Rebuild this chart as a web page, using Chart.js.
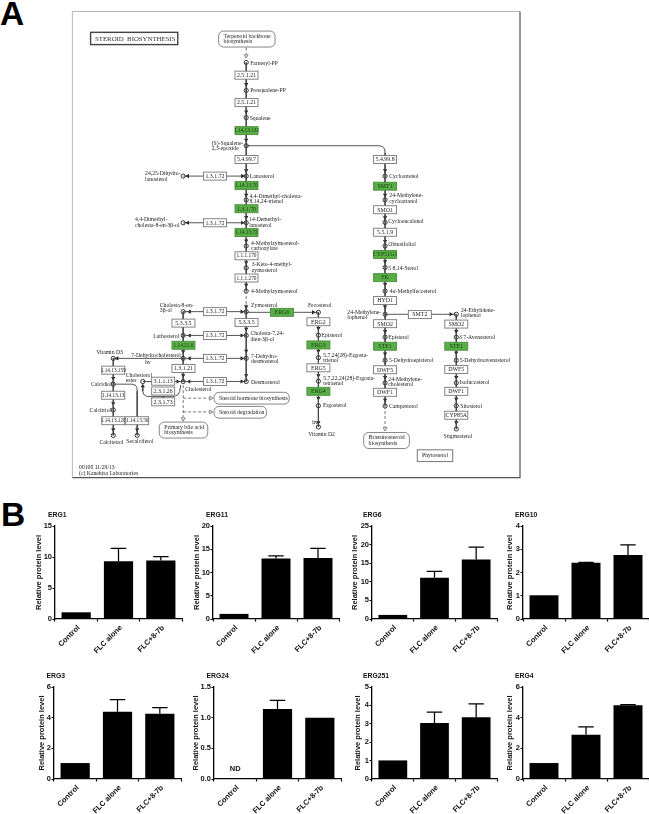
<!DOCTYPE html>
<html lang="en">
<head>
<meta charset="utf-8">
<title>Steroid biosynthesis</title>
<script src="https://cdn.jsdelivr.net/npm/chart.js@4/dist/chart.umd.min.js"></script>
<style>
html,body{margin:0;padding:0;background:#fff;width:649px;height:814px;overflow:hidden}
canvas{position:absolute;display:block}
.letter{position:absolute;font:bold 33.5px "Liberation Sans",Arial,sans-serif;line-height:34px;color:#000}
#pathway{filter:blur(.4px)}
.bars{filter:blur(.35px)}
</style>
</head>
<body>
<div class="letter" style="left:0;top:-3px">A</div>
<div class="letter" style="left:1px;top:498px">B</div>
<canvas id="pathway" width="649" height="490" style="left:0;top:0"></canvas>
<script>
/* ---------- Panel B data ---------- */
const categories = ['Control', 'FLC alone', 'FLC+8-7b'];
const erg1Values   = [1.08, 9.33, 9.44];   const erg1Upper   = [null, 11.4, 10.05];
const erg11Values  = [1.1, 13.0, 13.1];    const erg11Upper  = [null, 13.6, 15.2];
const erg6Values   = [1.1, 11.1, 16.0];    const erg6Upper   = [null, 12.8, 19.3];
const erg10Values  = [1.02, 2.42, 2.75];   const erg10Upper  = [null, 2.44, 3.19];
const erg3Values   = [1.04, 4.39, 4.26];   const erg3Upper   = [null, 5.17, 4.65];
const erg24Values  = [0, 1.14, 1.0];       const erg24Upper  = [null, 1.28, null];
const erg251Values = [1.01, 3.05, 3.36];   const erg251Upper = [null, 3.63, 4.08];
const erg4Values   = [1.04, 2.88, 4.81];   const erg4Upper   = [null, 3.4, 4.85];
const erg24Note = {text: 'ND', index: 0, value: 0.17};

/* ---------- Panel A diagram, in diagram units ---------- */
const compounds = [
 [245,58.7],[245,87.3],[245,115],[245,143.7],[245,174.7],[181,174.7],[245,199],[245,222.3],[181,222.3],[245,246],
 [245,268.3],[245,292],[245,313],[181,313],[245,337.3],[181,337.3],[245,360.7],[181,360.7],[110,360.7],[245,384.3],
 [181,384.3],[140,384.3],[110,387],[110,413.3],[110,439.3],[134.3,439.3],
 [318.3,313.7],[318.3,337],[318.3,360],[318.3,384],[318.3,409],[318.3,430.7],
 [386,174.7],[386,199],[386,222],[386,246],[386,268],[386,292],[386,315.7],[386,339],[386,362.7],[386,385.7],[386,409.3],
 [458.3,315.7],[458.3,339],[458.3,362.7],[458.3,385.7],[458.3,409],[458.3,432.7]
];
const downArrows = [
 [245,81],[245,109],[245,137.7],[245,169],[245,194],[245,216.7],[245,240.7],[245,262.7],[245,285.7],[245,308],[245,330.7],[245,353],[245,378],
 [181,353.5],[181,378],[110,381],[110,406.7],[110,433.3],[134.3,433.3],
 [318.3,330],[318.3,353],[318.3,378],[318.3,401.3],[318.3,426],
 [386,169],[386,194],[386,217],[386,241],[386,261.7],[386,285],[386,308],[386,333],[386,356],[386,380],[386,403],
 [458.3,333],[458.3,355],[458.3,380],[458.3,402],[458.3,426]
];
const rightArrows = [[241,174.7],[241,222.3],[240.5,313],[240.5,337.3],[240.5,360.7],[240.5,384.3],[313,313.7],[452.7,315.7],[175.5,384.3]];
const leftArrows  = [[185.7,174.7],[185.7,222.3],[187.5,313],[187.5,337.3],[187.5,360.7],[187,384.3],[114,360.7]];
const upArrows    = [[140,389]];
const openDown    = [[245,52],[181,422.5],[386,432.5]];
const openRight   = [[209,401.3],[209,415.3]];
const solidPaths = [
 [[245,58.7],[245,292]],[[245,306],[245,384.3]],
 [[181,174.7],[245,174.7]],[[181,222.3],[245,222.3]],[[181,313],[245,313]],[[181,337.3],[245,337.3]],
 [[181,360.7],[245,360.7]],[[181,384.3],[245,384.3]],[[245,313.7],[318.3,313.7]],
 [[245,143.7],[380,143.7],[383.5,144.5],[385.5,147],[386,151],[386,409]],
 [[181,313],[181,384.3]],[[110,360.7],[181,360.7]],[[110,360.7],[110,439.3]],
 [[110,387],[129,387],[132.5,388],[134,390.5],[134.3,394],[134.3,439.3]],
 [[140,384.3],[181,384.3]],
 [[140,388],[140,394],[141,397.5],[144,399.5],[172,399.5],[175.5,398],[177.5,394.5],[178.5,388]],
 [[160.7,399.5],[160.7,402]],
 [[318.3,313.7],[318.3,409]],[[318.3,409],[318.3,430.7]],
 [[386,315.7],[458.3,315.7]],[[458.3,315.7],[458.3,432.7]]
];
const dashedPaths = [
 [[245,43.5],[245,50]],[[245,292],[245,306]],[[181,388],[181,420.5]],
 [[181,401.3],[207,401.3]],[[181,415.3],[207,415.3]],[[386,409.3],[386,430.5]]
];
const whiteEnzymes = [
 ['2.5.1.21',245.3,71.7],['2.5.1.21',245.3,99.7],['5.4.99.7',245.3,157.7],['1.3.1.72',213.3,174.7],['1.3.1.72',213.3,222.3],
 ['1.1.1.170',245.3,256],['1.1.1.270',245.3,278.7],['1.3.1.72',213.3,313],['5.3.3.5',181.3,324.7],['5.3.3.5',245.3,324],
 ['1.3.1.72',213.3,337.3],['1.3.1.72',213.3,360.7],['1.3.1.21',181.3,371],['1.3.1.72',213.3,384.3],
 ['3.1.1.13',160.7,384],['2.3.1.26',160.7,394],['2.3.1.73',160.7,405],
 ['1.14.13.159',110,372.7],['1.14.13.13',110,398.3],['1.14.13.126',110,424.3],['1.14.13.56',134.3,424.3],
 ['ERG2',318.3,323.3],['ERG5',318.3,370.3],
 ['5.4.99.8',386,157.7],['SMO1',386,209],['5.5.1.9',386,232],['HYD1',386,301.7],['SMO2',386,325.3],['DWF5',386,372.3],['DWF1',386,395.3],
 ['SMT2',421.3,316],['SMO2',458.3,325.7],['DWF5',458.3,372],['DWF1',458.3,394.3],['CYP85A',458.3,418.7]
];
const greenEnzymes = [
 ['1.14.13.132',245.3,128.3],['1.14.13.70',245.3,184.3],['1.3.1.70',245.3,208],['1.14.13.72',245.3,232.3],['1.14.21.6',181.3,347.3],
 ['ERG6',281.3,313.7],['ERG3',318.3,347],['ERG4',318.3,394.3],
 ['SMT1',386,185],['CYP51G1',386,254.7],['FK',386,278.3],['STE1',386,348.3],['STE1',458.3,348.3]
];
const compoundLabels = [
 ['Farnesyl-PP',249,59.5],['Presqualene-PP',249,87.8],['Squalene',248.5,115.5],['(S)-Squalene-',210,141.3],['2,3-epoxide',210,147],
 ['Lanosterol',248.7,175],['24,25-Dihydro-',142.3,172.3],['lanosterol',142.3,178],['4,4-Dimethyl-cholesta-',248.3,195.3],['8,14,24-trienol',248.3,200.3],
 ['14-Demethyl-',248,219.3],['lanosterol',248,225],['4,4-Dimethyl-',132,219.3],['cholesta-8-en-3\u03b2-ol',132,225.3],
 ['4-Methylzymosterol-',250,243.3],['carboxylate',250,248.3],['3-Keto-4-methyl-',250.7,265],['zymosterol',250.7,270.7],['4-Methylzymosterol',250,292.5],
 ['Zymosterol',250,307],['Cholesta-8-en-',157.3,307],['3\u03b2-ol',157.3,312],['Cholesta-7,24-',249.3,335.7],['dien-3\u03b2-ol',249.3,341.3],
 ['Lathosterol',150.7,338],['7-Dehydrocholesterol',128.3,357.3],['hv',142.5,365],['Vitamin D3',92.7,354.7],['7-Dehydro-',250,358.3],['desmosterol',250,364],
 ['Desmosterol',250,385],['Cholesterol',122.7,378.3],['ester',122.7,383.3],['Cholesterol',183,392],['Calcidiol',87.3,387.5],['Calcitriol',86,414],
 ['Calcitetrol',96,446.3],['Secalciferol',123.3,446],
 ['Fecosterol',307.7,306.7],['Episterol',321.5,337.7],['5,7,24(28)-Ergosta-',323.3,357.3],['trienol',323.3,362.7],
 ['5,7,22,24(28)-Ergosta-',323.3,381],['tetraenol',323.3,386],['Ergosterol',323,409],['hv',312,426.5],['Vitamin D2',308,438],
 ['Cycloartenol',390.3,175],['24-Methylene-',390.3,195],['cycloartanol',390.3,200.3],['Cycloeucalenol',389.3,221.3],['Obtusifoliol',389.3,245],
 ['5 8,14-Sterol',389.3,268.5],['4\u03b1-Methylfecosterol',390.7,292.5],['24-Methylene-',347.7,314],['lophenol',347.7,319.3],
 ['24-Ethylidene-',463,312],['lophenol',463,317],['Episterol',389.3,339],['5-Dehydroepisterol',390,363],['24-Methylene-',389.3,382],['cholesterol',389.3,387],
 ['Campesterol',390,410],['\u03b4 7-Avenasterol',461.3,339.5],['5-Dehydroavenasterol',461.7,363],['Isofucosterol',461.7,385.7],['Sitosterol',462.3,409.7],['Stigmasterol',445.3,440],
 ['00100 11/29/13',75.3,472.3],['(c) Kanehisa Laboratories',75.3,477.7]
];
const mapNodes = [
 {x0:217,x1:274.3,y0:26.7,y1:43,lines:['Terpenoid backbone','biosynthesis']},
 {x0:212.3,x1:288.7,y0:395.3,y1:407.3,lines:['Steroid hormone biosynthesis']},
 {x0:212.3,x1:265.7,y0:409.7,y1:421.7,lines:['Steroid degradation']},
 {x0:156.7,x1:206,y0:425.7,y1:442,lines:['Primary bile acid','biosynthesis']},
 {x0:364.3,x1:410.7,y0:436.3,y1:452.7,lines:['Brassinosteroid','biosynthesis']}
];

const SERIF = '"Liberation Serif","Times New Roman",serif';
const SANS = '"Liberation Sans",Arial,sans-serif';
const toPts = list => list.map(p => ({x: p[0], y: p[1]}));
const joinPaths = paths => paths.flatMap(path => toPts(path).concat([{x: NaN, y: NaN}]));

const pathwayPlugin = {
  id: 'pathwayPlugin',
  afterDatasetsDraw(chart) {
    const c = chart.ctx, X = v => chart.scales.x.getPixelForValue(v), Y = v => chart.scales.y.getPixelForValue(v);
    c.save();
    // frame
    c.strokeStyle = '#b5b5b5'; c.lineWidth = 1;
    c.beginPath(); c.moveTo(X(68.5), Y(482)); c.lineTo(X(68.5), Y(6.7)); c.lineTo(X(523), Y(6.7)); c.stroke();
    c.strokeStyle = '#555'; c.lineWidth = 1.2;
    c.beginPath(); c.moveTo(X(523), Y(6.7)); c.lineTo(X(523), Y(482.3)); c.lineTo(X(68.5), Y(482.3)); c.stroke();
    // title box
    c.strokeStyle = '#444'; c.lineWidth = 1.4; c.strokeRect(X(87), Y(28), X(175.5)-X(87), Y(40.5)-Y(28));
    c.fillStyle = '#333'; c.font = '6.8px ' + SERIF; c.textBaseline = 'middle'; c.textAlign = 'left';
    c.fillText('STEROID  BIOSYNTHESIS', X(91.5), Y(35));
    // map nodes
    mapNodes.forEach(n => {
      c.beginPath(); c.roundRect(X(n.x0), Y(n.y0), X(n.x1)-X(n.x0), Y(n.y1)-Y(n.y0), 5);
      c.fillStyle = '#fff'; c.fill(); c.strokeStyle = '#666'; c.lineWidth = .8; c.stroke();
      c.fillStyle = '#222'; c.font = '5.8px ' + SERIF; c.textAlign = 'left';
      const my = (n.y0 + n.y1) / 2;
      n.lines.forEach((t, i) => c.fillText(t, X(n.x0 + 5), Y(my + (i - (n.lines.length - 1) / 2) * 5.7)));
    });
    // enzymes
    const box = (e, green) => {
      const long = e[0].length > 8, w = 23, h = 8;
      c.fillStyle = green ? '#58ad46' : '#fff';
      c.fillRect(X(e[1]) - w/2, Y(e[2]) - h/2, w, h);
      c.strokeStyle = green ? '#4d8f3f' : '#777'; c.lineWidth = .9;
      c.strokeRect(X(e[1]) - w/2, Y(e[2]) - h/2, w, h);
      c.fillStyle = green ? '#163c10' : '#222';
      c.font = (long ? '5.3px ' : '5.9px ') + SERIF; c.textAlign = 'center';
      c.fillText(e[0], X(e[1]), Y(e[2]) + .3);
    };
    whiteEnzymes.forEach(e => box(e, false));
    greenEnzymes.forEach(e => box(e, true));
    // compound labels
    c.fillStyle = '#222'; c.font = '5.7px ' + SERIF; c.textAlign = 'left';
    compoundLabels.forEach(l => c.fillText(l[0], X(l[1]), Y(l[2])));
    // phytosterol legend box
    c.strokeStyle = '#777'; c.lineWidth = 1; c.strokeRect(X(418.7), Y(454), X(454.7)-X(418.7), Y(466)-Y(454));
    c.textAlign = 'center'; c.fillText('Phytosterol', X(436.7), Y(460.2));
    c.restore();
  }
};

new Chart(document.getElementById('pathway'), {
  type: 'scatter',
  plugins: [pathwayPlugin],
  data: {datasets: [
    {data: joinPaths(solidPaths), showLine: true, spanGaps: false, borderColor: '#444', borderWidth: .9, pointRadius: 0},
    {data: joinPaths(dashedPaths), showLine: true, spanGaps: false, borderColor: '#666', borderWidth: .9, borderDash: [3, 2], pointRadius: 0},
    {data: toPts(downArrows), pointStyle: 'triangle', rotation: 180, pointRadius: 2.4, backgroundColor: '#111', borderWidth: 0},
    {data: toPts(rightArrows), pointStyle: 'triangle', rotation: 90, pointRadius: 2.4, backgroundColor: '#111', borderWidth: 0},
    {data: toPts(leftArrows), pointStyle: 'triangle', rotation: 270, pointRadius: 2.4, backgroundColor: '#111', borderWidth: 0},
    {data: toPts(upArrows), pointStyle: 'triangle', rotation: 0, pointRadius: 2.4, backgroundColor: '#111', borderWidth: 0},
    {data: toPts(openDown), pointStyle: 'triangle', rotation: 180, pointRadius: 2.2, backgroundColor: '#fff', borderColor: '#666', borderWidth: .8},
    {data: toPts(openRight), pointStyle: 'triangle', rotation: 90, pointRadius: 2.2, backgroundColor: '#fff', borderColor: '#666', borderWidth: .8},
    {data: toPts(compounds), pointStyle: 'circle', pointRadius: 2.1, backgroundColor: '#fff', borderColor: '#222', borderWidth: .9}
  ]},
  options: {
    responsive: false, animation: false, devicePixelRatio: 1,
    layout: {padding: 0},
    plugins: {legend: {display: false}, tooltip: {enabled: false}},
    scales: {
      x: {type: 'linear', min: 0, max: 649, display: false},
      y: {type: 'linear', min: 0, max: 490, reverse: true, display: false}
    }
  }
});

/* ---------- Panel B charts ---------- */
const barPlugin = {
  id: 'barPlugin',
  afterDatasetsDraw(chart, args, o) {
    const c = chart.ctx, sx = chart.scales.x, sy = chart.scales.y;
    c.save();
    c.strokeStyle = '#000'; c.lineWidth = 1.25;
    o.upper.forEach((u, i) => {
      if (u === null) return;
      const x = sx.getPixelForValue(i), y0 = sy.getPixelForValue(o.values[i]), y1 = sy.getPixelForValue(u);
      c.beginPath(); c.moveTo(x, y0); c.lineTo(x, y1);
      c.moveTo(x - 7.7, y1); c.lineTo(x + 7.7, y1); c.stroke();
    });
    c.fillStyle = '#111'; c.font = 'bold 6.8px ' + SANS; c.textAlign = 'left'; c.textBaseline = 'middle';
    c.fillText(o.name, chart.chartArea.left + o.titleDx, sy.top - 11);
    if (o.note) {
      c.font = 'bold 7.5px ' + SANS; c.textAlign = 'center';
      c.fillText(o.note.text, sx.getPixelForValue(o.note.index), sy.getPixelForValue(o.note.value));
    }
    c.restore();
  }
};

function addPanel(p) {
  const LEFT = 50, TOP = 20, BOTTOM = 42, RIGHT = 4;
  const cv = document.createElement('canvas');
  cv.className = 'bars';
  cv.width = LEFT + (p.right - p.left) + RIGHT;
  cv.height = TOP + (p.bottom - p.top) + BOTTOM;
  cv.style.left = (p.left - LEFT) + 'px';
  cv.style.top = (p.top - TOP) + 'px';
  document.body.appendChild(cv);
  const tickFont = {family: SANS, size: 7.5, weight: 'bold'};
  new Chart(cv, {
    type: 'bar',
    plugins: [barPlugin],
    data: {labels: categories, datasets: [{data: p.values, backgroundColor: '#000', borderWidth: 0, barPercentage: .69, categoryPercentage: 1}]},
    options: {
      responsive: false, animation: false, devicePixelRatio: 1,
      layout: {padding: {left: 0, top: TOP, right: RIGHT, bottom: 0}},
      plugins: {
        legend: {display: false}, tooltip: {enabled: false},
        barPlugin: {name: p.name, upper: p.upper, values: p.values, note: p.note || null, titleDx: p.titleDx}
      },
      scales: {
        x: {
          afterFit(s) { s.height = BOTTOM; },
          grid: {drawOnChartArea: false, drawTicks: true, tickLength: 2.5, tickColor: '#000', tickWidth: 1.2},
          border: {color: '#000', width: 1.3},
          ticks: {color: '#111', font: tickFont, minRotation: 45, maxRotation: 45, padding: 2, labelOffset: 2.5, autoSkip: false}
        },
        y: {
          afterFit(s) { s.width = LEFT; },
          min: 0, max: p.max,
          grid: {drawOnChartArea: false, drawTicks: true, tickLength: 2.5, tickColor: '#000', tickWidth: 1.2},
          border: {color: '#000', width: 1.3},
          ticks: {color: '#111', font: tickFont, stepSize: p.step, padding: 0.5,
                  callback: v => p.decimals ? v.toFixed(p.decimals) : String(v)},
          title: {display: true, text: 'Relative protein level', color: '#111',
                  font: {family: SANS, size: 7.5, weight: 'bold'}, padding: {top: LEFT - p.gap - 4.5, bottom: 0}}
        }
      }
    }
  });
}

[
 {name:'ERG1',   values:erg1Values,   upper:erg1Upper,   max:15, step:5, left:55,  right:182, top:526, bottom:619, gap:16.3, titleDx:-7},
 {name:'ERG11',  values:erg11Values,  upper:erg11Upper,  max:20, step:5, left:213, right:339, top:526, bottom:619, gap:16,   titleDx:-7},
 {name:'ERG6',   values:erg6Values,   upper:erg6Upper,   max:25, step:5, left:372, right:497, top:526, bottom:619, gap:17.4, titleDx:-9},
 {name:'ERG10',  values:erg10Values,  upper:erg10Upper,  max:4,  step:1, left:523, right:649, top:526, bottom:619, gap:13.3, titleDx:-8},
 {name:'ERG3',   values:erg3Values,   upper:erg3Upper,   max:6,  step:2, left:54,  right:181, top:687, bottom:779, gap:12.3, titleDx:-7.5},
 {name:'ERG24',  values:erg24Values,  upper:erg24Upper,  max:1.5,step:.5,left:214, right:341, top:687, bottom:779, gap:18.3, titleDx:-7.5, decimals:1, note:erg24Note},
 {name:'ERG251', values:erg251Values, upper:erg251Upper, max:5,  step:1, left:372, right:497, top:687, bottom:779, gap:13.7, titleDx:-9},
 {name:'ERG4',   values:erg4Values,   upper:erg4Upper,   max:6,  step:2, left:523, right:649, top:687, bottom:779, gap:13.3, titleDx:-8}
].forEach(addPanel);
</script>
</body>
</html>
